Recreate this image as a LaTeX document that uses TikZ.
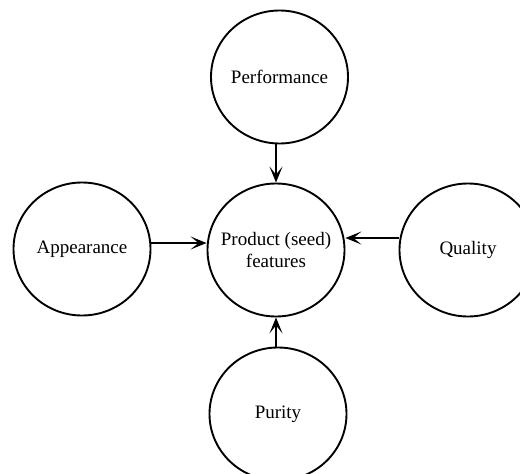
\documentclass[tikz,border=0pt]{standalone}
\usepackage{fontspec}
\setmainfont{Liberation Serif}
\usetikzlibrary{arrows.meta,shapes.geometric}
\begin{document}
\begin{tikzpicture}[x=1pt,y=-1pt,
  bub/.style={draw, ellipse, line width=1.9pt, minimum width=137pt, minimum height=133pt, inner xsep=-30pt, inner ysep=0pt, align=center, font=\fontsize{19}{22}\selectfont},
  arr/.style={line width=1.9pt, -{Stealth[length=16pt,width=13pt,inset=8pt]}}]
\useasboundingbox (0,0) rectangle (520,474);
\fill[white] (0,0) rectangle (520,474);
\node[bub] (c) at (276,250) {Product (seed)\\features};
\node[bub] (t) at (279.5,77) {Performance};
\node[bub] (l) at (82,249) {Appearance};
\node[bub] (r) at (468,250) {Quality};
\node[bub] (b) at (278,414) {Purity};
\draw[arr] (t.south -| 276,0) -- (c.north -| 276,0);
\draw[arr] (b.north -| 276,0) -- (c.south -| 276,0);
\draw[arr] (l.east |- 0,243) -- (c.west |- 0,243);
\draw[arr] (r.west |- 0,238) -- (c.east |- 0,238);
\end{tikzpicture}
\end{document}
